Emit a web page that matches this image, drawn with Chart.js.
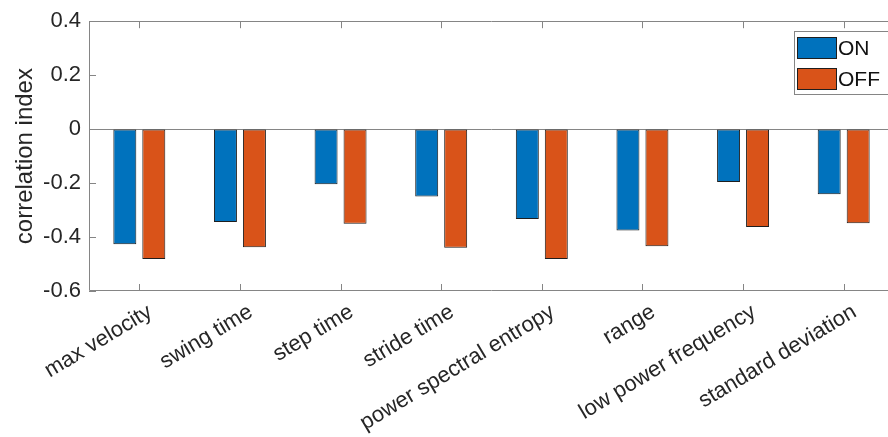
<!DOCTYPE html>
<html><head><meta charset="utf-8">
<script src="https://cdn.jsdelivr.net/npm/chart.js@4.4.1/dist/chart.umd.min.js"></script>
<style>
html,body{margin:0;padding:0;background:#fff;overflow:hidden;width:888px;height:437px}
#wrap{position:absolute;left:0;top:0;width:896px;height:437px}
</style>
</head><body><div id="wrap"><canvas id="c"></canvas></div>
<script>
const categories = ['max velocity','swing time','step time','stride time','power spectral entropy','range','low power frequency','standard deviation'];
const seriesNames = ['ON','OFF'];
const onValues  = [-0.427,-0.344,-0.204,-0.250,-0.333,-0.376,-0.196,-0.241];
const offValues = [-0.481,-0.438,-0.351,-0.440,-0.481,-0.434,-0.363,-0.349];
const yTickValues = [-0.6,-0.4,-0.2,0,0.2,0.4];
const yTickLabels = ['-0.6','-0.4','-0.2','0','0.2','0.4'];
const yTitle = 'correlation index';

const BLUE='#0072BD', ORANGE='#D95319', EDGE='#1e1e1e', AXIS='#858585', TXT='#262626';
const FONT='"Liberation Sans", Arial, Helvetica, sans-serif';

const boxPlugin = {
  id:'boxPlugin',
  afterDraw(chart){
    const {ctx, chartArea:{left,top,right,bottom}, scales:{x,y}} = chart;
    ctx.save();
    ctx.strokeStyle=AXIS; ctx.lineWidth=1;
    ctx.beginPath();
    ctx.rect(Math.round(left)+0.5, Math.round(top)+0.5, Math.round(right-left)-1, Math.round(bottom-top)-1);
    ctx.stroke();
    const tl=7;
    ctx.beginPath();
    for(let i=0;i<x.ticks.length;i++){
      const px=Math.round(x.getPixelForTick(i))+0.5;
      ctx.moveTo(px,bottom); ctx.lineTo(px,bottom-tl);
      ctx.moveTo(px,top); ctx.lineTo(px,top+tl);
    }
    for(const v of yTickValues){
      const py=Math.round(y.getPixelForValue(v))+0.5;
      ctx.moveTo(left,py); ctx.lineTo(left+tl,py);
    }
    ctx.stroke();
    // legend
    const lx=Math.round(right)-100, ly=Math.round(top)+10, lw=110, lh=63;
    ctx.fillStyle='#fff'; ctx.fillRect(lx,ly,lw,lh);
    ctx.strokeStyle=AXIS; ctx.strokeRect(lx+0.5,ly+0.5,lw,lh);
    const cols=[BLUE,ORANGE];
    ctx.font='21px '+FONT; ctx.textBaseline='middle'; ctx.textAlign='left';
    chart.data.datasets.forEach((ds,i)=>{
      const sy=ly+6+i*31;
      ctx.fillStyle=cols[i]; ctx.fillRect(lx+3.5,sy+0.5,39,21);
      ctx.strokeStyle=EDGE; ctx.strokeRect(lx+3.5,sy+0.5,39,21);
      ctx.fillStyle='#111'; ctx.fillText(ds.label, lx+44, sy+12);
    });
    ctx.restore();
  }
};

new Chart(document.getElementById('c'), {
  type:'bar',
  data:{
    labels:categories,
    datasets:[
      {label:seriesNames[0], data:onValues, backgroundColor:BLUE, borderColor:EDGE, borderWidth:1, borderSkipped:false},
      {label:seriesNames[1], data:offValues, backgroundColor:ORANGE, borderColor:EDGE, borderWidth:1, borderSkipped:false}
    ]
  },
  options:{
    responsive:true, maintainAspectRatio:false, animation:false, devicePixelRatio:1,
    layout:{padding:{left:0,right:2,top:20,bottom:0}},
    datasets:{bar:{categoryPercentage:0.576, barPercentage:0.793}},
    plugins:{legend:{display:false}, tooltip:{enabled:false}},
    scales:{
      x:{
        grid:{display:false}, border:{display:false},
        ticks:{color:TXT, font:{family:FONT,size:22}, minRotation:31, maxRotation:31, padding:0, labelOffset:11, autoSkip:false},
        afterFit(s){ s.height=146; }
      },
      y:{
        min:-0.6, max:0.4,
        afterBuildTicks(s){ s.ticks = yTickValues.map(v=>({value:v})); },
        grid:{drawTicks:false, color:ctx=> (ctx.tick && Math.abs(ctx.tick.value)<1e-9) ? AXIS : 'rgba(0,0,0,0)'},
        border:{display:false},
        ticks:{color:TXT, font:{family:FONT,size:22}, padding:8,
          callback:(v)=>{ const i=yTickValues.findIndex(t=>Math.abs(t-v)<1e-9); return i>=0?yTickLabels[i]:''; }},
        title:{display:true, text:yTitle, color:TXT, font:{family:FONT,size:24}, padding:{top:11,bottom:0}},
        afterFit(s){ s.width=89; }
      }
    }
  },
  plugins:[boxPlugin]
});
</script>
</body></html>
